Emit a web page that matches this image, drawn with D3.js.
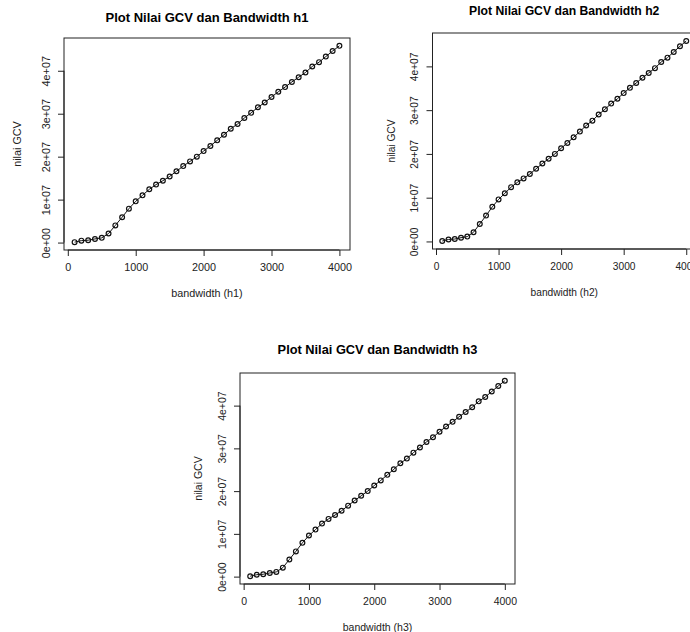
<!DOCTYPE html>
<html>
<head>
<meta charset="utf-8">
<script src="https://cdn.jsdelivr.net/npm/d3@7"></script>
<style>
  body { margin: 0; background: #fff; }
  svg { display: block; font-family: "Liberation Sans", Arial, sans-serif; }
</style>
</head>
<body>
<div id="chart"></div>
<script>
// bandwidth grid and GCV values (same for h1, h2, h3)
var bandwidth = [100, 200, 300, 400, 500, 600, 700, 800, 900, 1000,
    1100, 1200, 1300, 1400, 1500, 1600, 1700, 1800, 1900, 2000,
    2100, 2200, 2300, 2400, 2500, 2600, 2700, 2800, 2900, 3000,
    3100, 3200, 3300, 3400, 3500, 3600, 3700, 3800, 3900, 4000];
var gcv = [0.1e6, 0.45e6, 0.55e6, 0.85e6, 1.1e6, 2.1e6, 4.0e6, 5.9e6, 7.9e6, 9.6e6,
    11.0e6, 12.4e6, 13.5e6, 14.4e6, 15.4e6, 16.6e6, 17.8e6, 18.9e6, 20.0e6, 21.3e6,
    22.5e6, 23.8e6, 25.1e6, 26.5e6, 27.6e6, 29.0e6, 30.2e6, 31.5e6, 32.6e6, 33.9e6,
    35.1e6, 36.2e6, 37.4e6, 38.5e6, 39.6e6, 41.0e6, 42.0e6, 43.3e6, 44.6e6, 45.8e6];
var titles = ["Plot Nilai GCV dan Bandwidth h1", "Plot Nilai GCV dan Bandwidth h2", "Plot Nilai GCV dan Bandwidth h3"];
var xLabels = ["bandwidth (h1)", "bandwidth (h2)", "bandwidth (h3)"];
var yLabel = "nilai GCV";
var xTicks = [0, 1000, 2000, 3000, 4000];
var yTicks = [0, 1e7, 2e7, 3e7, 4e7];

// panel boxes (pixel layout of the three R plots)
var panels = [
    { left: 64, top: 38, right: 350, bottom: 250, titleY: 17, fs: 10.8, tfs: 13, labOff: 47 },
    { left: 432.5, top: 33, right: 696, bottom: 249, titleY: 11, fs: 10.2, tfs: 12.2, labOff: 41 },
    { left: 240, top: 373, right: 515, bottom: 584, titleY: 350, fs: 10.5, tfs: 12.8, labOff: 42 }
];

var svg = d3.select("#chart").append("svg")
    .attr("width", 690)
    .attr("height", 632);

svg.append("rect").attr("width", 690).attr("height", 632).attr("fill", "#fff");

var data = bandwidth.map(function (b, i) { return { x: b, y: gcv[i] }; });

// R style 4% padding
function pad(ext) {
    var r = ext[1] - ext[0];
    return [ext[0] - 0.04 * r, ext[1] + 0.04 * r];
}

panels.forEach(function (p, k) {
    var x = d3.scaleLinear()
        .domain(pad(d3.extent(bandwidth)))
        .range([p.left, p.right]);
    var y = d3.scaleLinear()
        .domain(pad(d3.extent(gcv)))
        .range([p.bottom, p.top]);

    var g = svg.append("g");

    // title
    g.append("text")
        .attr("x", (p.left + p.right) / 2)
        .attr("y", p.titleY)
        .attr("dy", "0.35em")
        .attr("text-anchor", "middle")
        .style("font-weight", "bold")
        .style("font-size", p.tfs + "px")
        .text(titles[k]);

    // x axis
    var xa = g.append("g")
        .attr("transform", "translate(0," + p.bottom + ")")
        .call(d3.axisBottom(x).tickValues(xTicks).tickSize(6).tickSizeOuter(0).tickPadding(3));
    xa.select(".domain").attr("d", "M" + x(0) + ",0H" + x(4000)).attr("stroke", "#222");
    xa.selectAll(".tick line").attr("stroke", "#222");
    xa.selectAll(".tick text").remove();
    xa.selectAll(".tick").append("text")
        .attr("y", 17)
        .attr("dy", "0.35em")
        .attr("fill", "#222")
        .attr("text-anchor", "middle")
        .style("font-size", p.fs + "px")
        .text(function (d) { return d; });

    // y axis
    var ya = g.append("g")
        .attr("transform", "translate(" + p.left + ",0)")
        .call(d3.axisLeft(y).tickValues(yTicks).tickSize(6).tickSizeOuter(0));
    ya.select(".domain").attr("d", "M0," + y(0) + "V" + y(4e7)).attr("stroke", "#222");
    ya.selectAll(".tick line").attr("stroke", "#222");
    ya.selectAll(".tick text").remove();
    ya.selectAll(".tick").append("text")
        .attr("transform", "translate(-18,0) rotate(-90)")
        .attr("dy", "0.35em")
        .attr("fill", "#222")
        .attr("text-anchor", "middle")
        .style("font-size", p.fs + "px")
        .text(function (d) { return d === 0 ? "0e+00" : (d / 1e7) + "e+07"; });

    // box
    g.append("rect")
        .attr("x", p.left)
        .attr("y", p.top)
        .attr("width", p.right - p.left)
        .attr("height", p.bottom - p.top)
        .attr("fill", "none")
        .attr("stroke", "#222");

    // axis titles
    g.append("text")
        .attr("x", (p.left + p.right) / 2)
        .attr("y", p.bottom + 43)
        .attr("dy", "0.35em")
        .attr("text-anchor", "middle")
        .attr("fill", "#222")
        .style("font-size", p.fs + "px")
        .text(xLabels[k]);

    g.append("text")
        .attr("transform", "translate(" + (p.left - p.labOff) + "," + ((p.top + p.bottom) / 2) + ") rotate(-90)")
        .attr("dy", "0.35em")
        .attr("text-anchor", "middle")
        .attr("fill", "#222")
        .style("font-size", p.fs + "px")
        .text(yLabel);

    // line + points (type = "o")
    var line = d3.line()
        .x(function (d) { return x(d.x); })
        .y(function (d) { return y(d.y); });

    g.append("path")
        .datum(data)
        .attr("fill", "none")
        .attr("stroke", "#111")
        .attr("stroke-width", 1)
        .attr("d", line);

    g.selectAll("circle")
        .data(data)
        .enter().append("circle")
        .attr("cx", function (d) { return x(d.x); })
        .attr("cy", function (d) { return y(d.y); })
        .attr("r", 2.4)
        .attr("fill", "none")
        .attr("stroke", "#111")
        .attr("stroke-width", 1.2);
});
</script>
</body>
</html>
